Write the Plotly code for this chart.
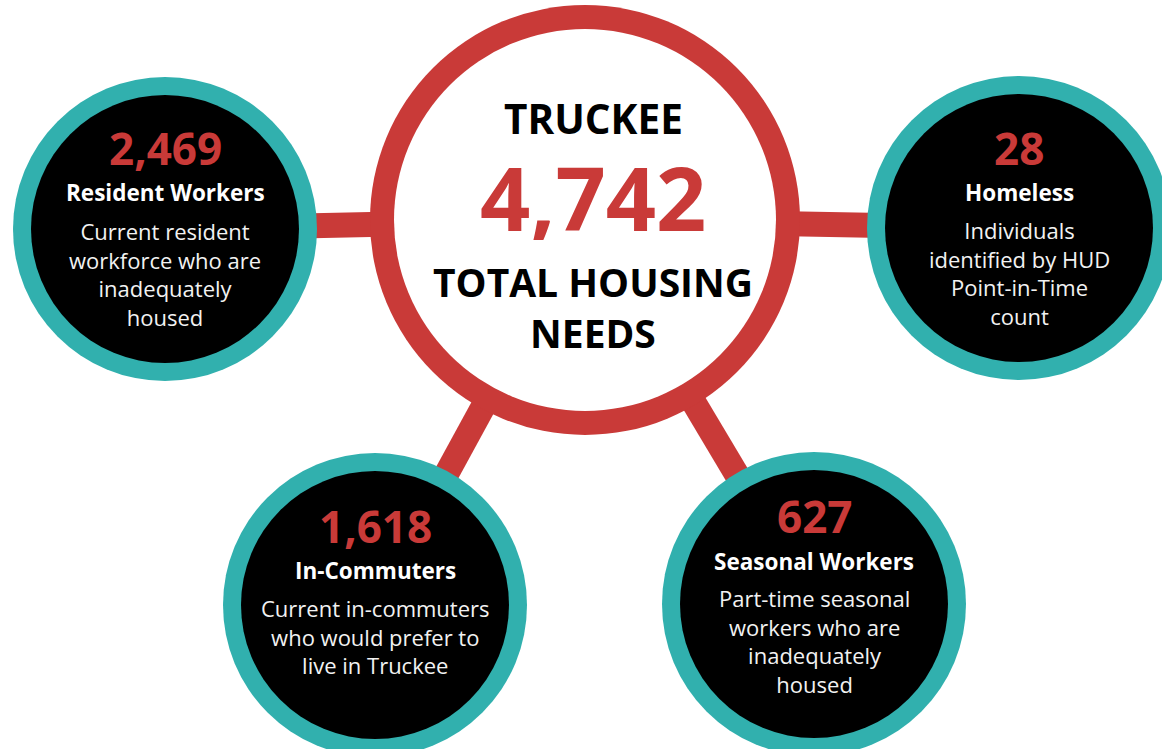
import plotly.graph_objects as go

# ---------------- data ----------------
place = "TRUCKEE"
total_label = "TOTAL HOUSING<br>NEEDS"
categories = ["Resident Workers", "Homeless", "In-Commuters", "Seasonal Workers"]
values = [2469, 28, 1618, 627]
descriptions = [
    "Current resident<br>workforce who are<br>inadequately<br>housed",
    "Individuals<br>identified by HUD<br>Point-in-Time<br>count",
    "Current in-commuters<br>who would prefer to<br>live in Truckee",
    "Part-time seasonal<br>workers who are<br>inadequately<br>housed",
]
total = sum(values)

# ---------------- layout (positions / styles) ----------------
W, H = 1162, 749
RED = "#C93A38"
TEAL = "#31B0AE"
FONT = "Open Sans"

hub = (585, 220)
hub_r, hub_ring = 215, 24
node_xy = [(165, 229), (1019, 228), (375, 605), (814, 604)]
node_r, node_ring = 152, 18
desc_mid_offset = [45, 45, 31, 37]  # vertical offset of description block centre from node centre

shapes = []
# connectors
for (nx, ny) in node_xy:
    shapes.append(dict(type="line", xref="x", yref="y", x0=hub[0], y0=hub[1], x1=nx, y1=ny,
                       line=dict(color=RED, width=25), layer="below"))
# hub circle
shapes.append(dict(type="circle", xref="x", yref="y", x0=hub[0]-hub_r, x1=hub[0]+hub_r,
                   y0=hub[1]-hub_r, y1=hub[1]+hub_r, fillcolor=RED, line=dict(width=0)))
ir = hub_r - hub_ring
shapes.append(dict(type="circle", xref="x", yref="y", x0=hub[0]-ir, x1=hub[0]+ir,
                   y0=hub[1]-ir, y1=hub[1]+ir, fillcolor="white", line=dict(width=0)))
# node circles
for (nx, ny) in node_xy:
    shapes.append(dict(type="circle", xref="x", yref="y", x0=nx-node_r, x1=nx+node_r,
                       y0=ny-node_r, y1=ny+node_r, fillcolor=TEAL, line=dict(width=0)))
    r2 = node_r - node_ring
    shapes.append(dict(type="circle", xref="x", yref="y", x0=nx-r2, x1=nx+r2,
                       y0=ny-r2, y1=ny+r2, fillcolor="black", line=dict(width=0)))

ann = []
def add(x, y, text, size, color, weight="normal", height=None):
    a = dict(x=x, y=y, xref="x", yref="y", text=text, showarrow=False,
             xanchor="center", yanchor="middle", align="center", valign="middle",
             font=dict(family=FONT, size=size, color=color, weight=weight))
    if height is not None:
        a["height"] = height
    ann.append(a)

# hub text
add(593, 118, place, 40.5, "black", "bold", height=44)
add(593, 197, f"{total:,}", 88, RED, "bold", height=86)
add(593, 307, total_label, 39, "black", "bold")

num_dy = [-81, -80, -79, -88]
cat_dy = [-37, -36, -35, -43]
for i, (nx, ny) in enumerate(node_xy):
    add(nx, ny + num_dy[i], f"{values[i]:,}", 44, RED, "bold")
    add(nx, ny + cat_dy[i], categories[i], 22.5, "white", "bold")
    add(nx, ny + desc_mid_offset[i], descriptions[i], 22, "#F2F2F2")

fig = go.Figure()
fig.add_trace(go.Scatter(x=[0, W], y=[0, H], mode="markers", marker=dict(opacity=0),
                         hoverinfo="skip", showlegend=False))
fig.update_layout(
    width=W, height=H, margin=dict(l=0, r=0, t=0, b=0),
    paper_bgcolor="white", plot_bgcolor="white",
    xaxis=dict(range=[0, W], visible=False, fixedrange=True),
    yaxis=dict(range=[H, 0], visible=False, fixedrange=True),
    shapes=shapes, annotations=ann, showlegend=False,
)
fig.write_html("out.html", config={"displayModeBar": False},
               post_script="document.body.style.margin='0';document.body.style.overflow='hidden';")
